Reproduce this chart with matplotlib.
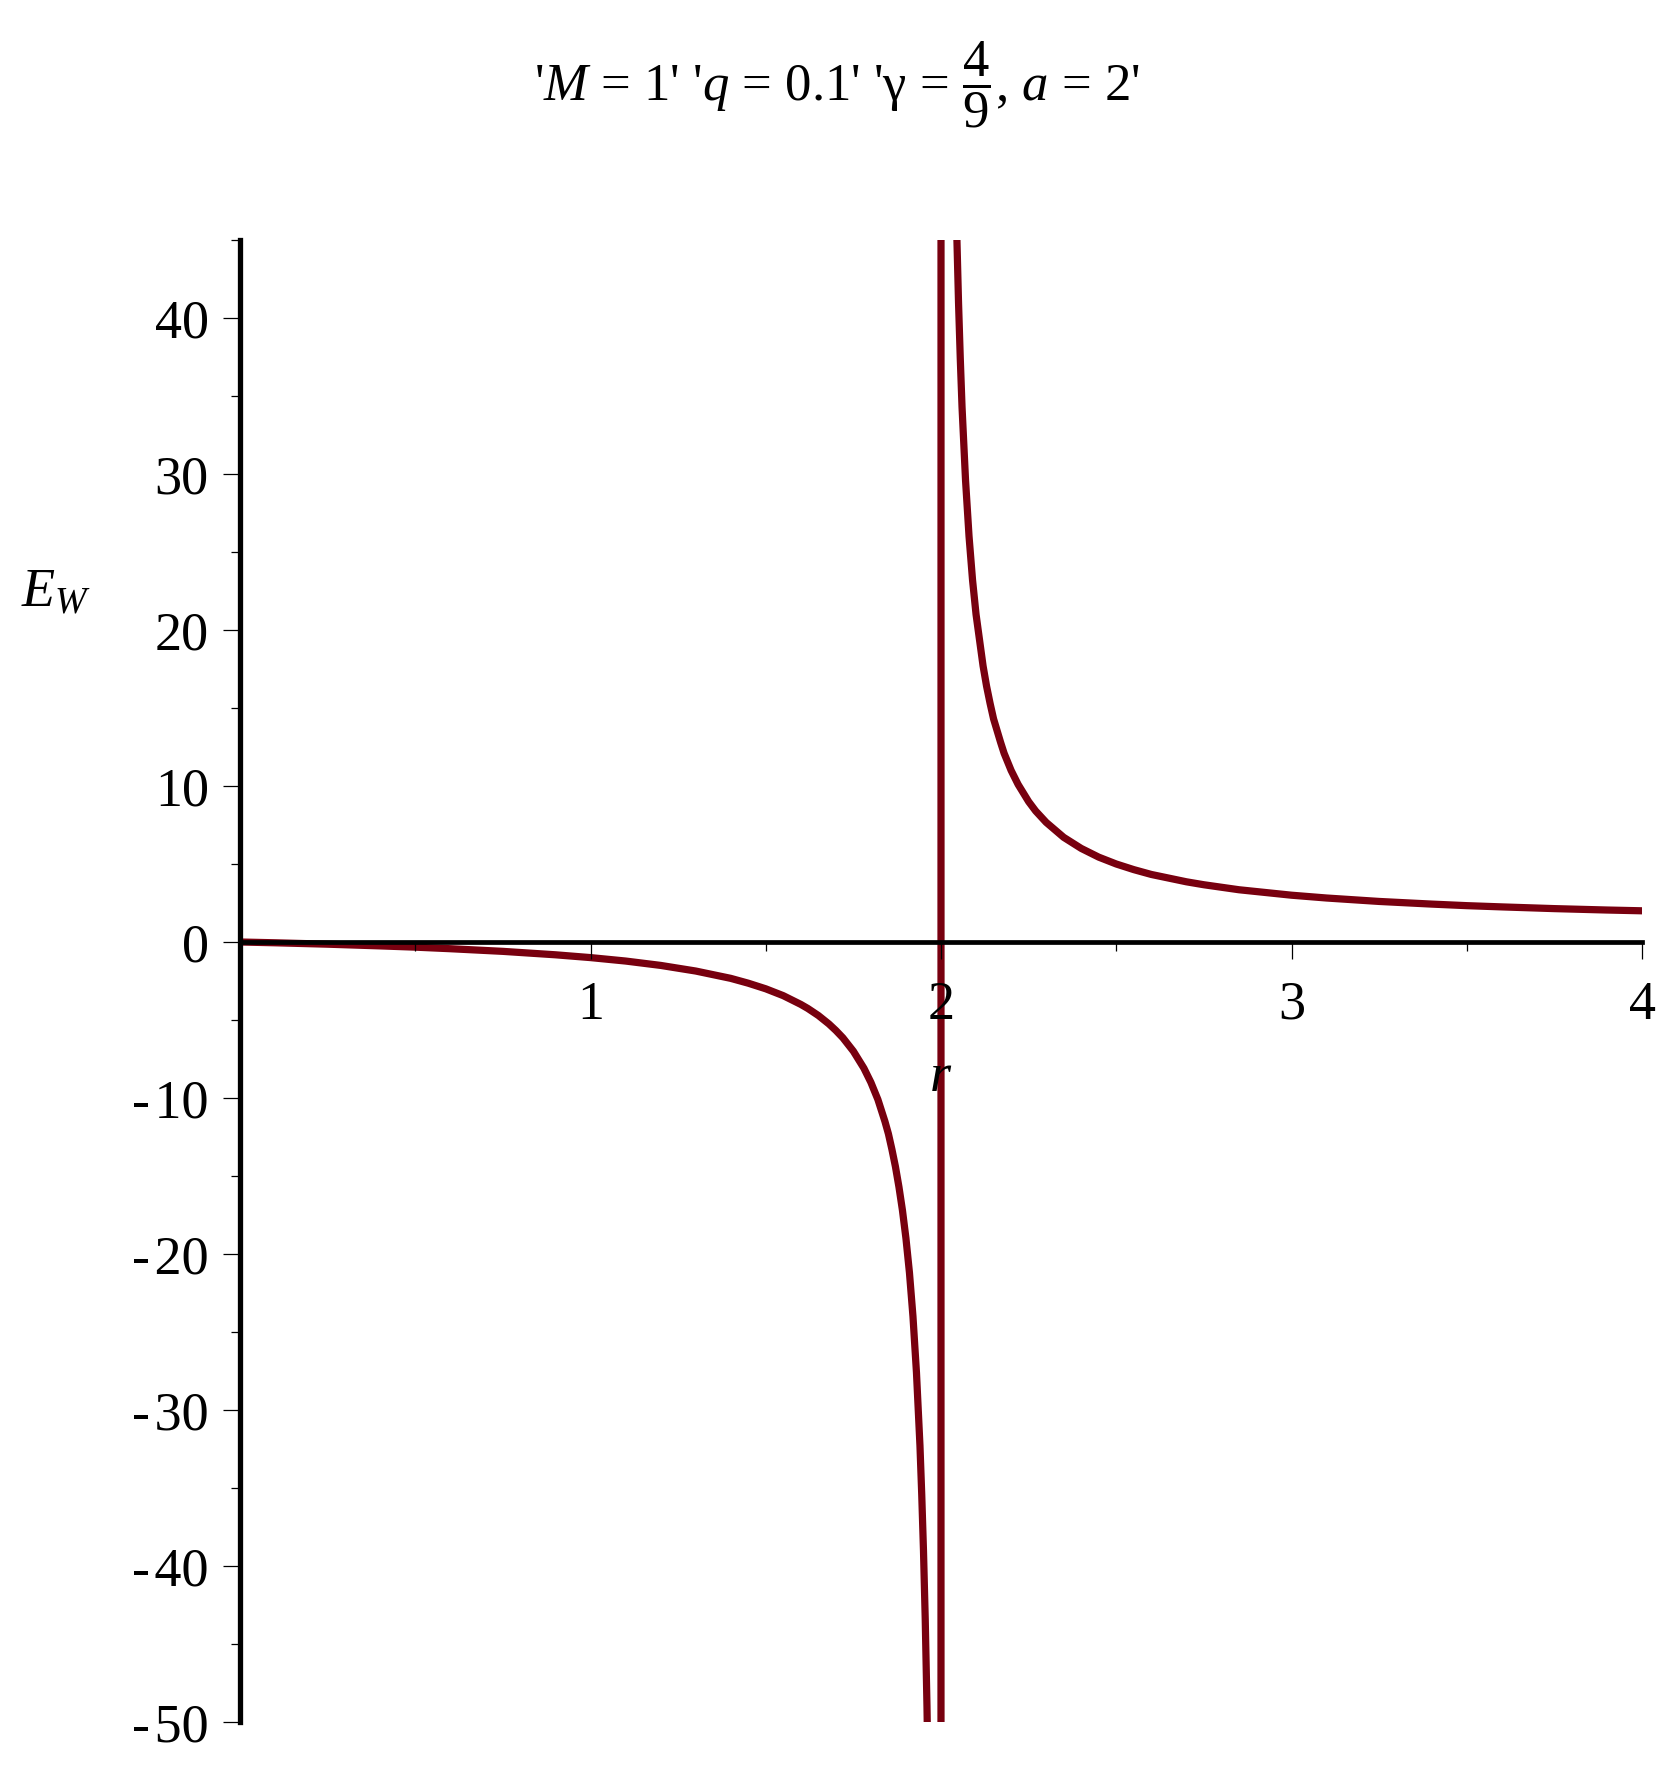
import matplotlib
matplotlib.use('Agg')
import matplotlib.pyplot as plt
from matplotlib.ticker import FixedLocator, MultipleLocator, FuncFormatter

# Fonts: Times-like serif, italic math letters
plt.rcParams['font.family'] = ['Liberation Serif', 'DejaVu Serif']
plt.rcParams['mathtext.fontset'] = 'custom'
plt.rcParams['mathtext.rm'] = 'Liberation Serif'
plt.rcParams['mathtext.it'] = 'Liberation Serif:italic'

# Curve values (left branch, jump across r = 2, right branch)
r_left = [0.0, 0.1, 0.25, 0.4, 0.5, 0.6, 0.75, 0.9, 1.0, 1.1, 1.2, 1.3, 1.4, 1.45,
          1.5, 1.55, 1.6, 1.62, 1.65, 1.68, 1.7, 1.72, 1.75, 1.78, 1.8, 1.82, 1.84,
          1.85, 1.86, 1.87, 1.88, 1.89, 1.9, 1.91, 1.92, 1.93, 1.94, 1.945, 1.95,
          1.955, 1.96, 1.965, 1.97, 1.98, 1.99, 1.999]
e_left = [0.0, -0.05, -0.14, -0.25, -0.33, -0.43, -0.6, -0.82, -1.0, -1.22, -1.5, -1.86,
          -2.33, -2.64, -3.0, -3.44, -4.0, -4.26, -4.71, -5.25, -5.67, -6.14, -7.0, -8.09,
          -9.0, -10.1, -11.5, -12.3, -13.3, -14.4, -15.7, -17.2, -19.0, -21.2, -24.0, -27.6,
          -32.3, -35.4, -39.0, -43.4, -49.0, -56.1, -65.7, -99.0, -199.0, -1999.0]
r_right = [2.001, 2.01, 2.02, 2.03, 2.035, 2.04, 2.045, 2.05, 2.055, 2.06, 2.07, 2.08,
           2.09, 2.1, 2.12, 2.13, 2.14, 2.15, 2.17, 2.18, 2.2, 2.22, 2.25, 2.27, 2.3,
           2.35, 2.4, 2.45, 2.5, 2.55, 2.6, 2.7, 2.75, 2.85, 3.0, 3.1, 3.25, 3.4, 3.5,
           3.6, 3.75, 3.9, 4.0]
e_right = [2001.0, 201.0, 101.0, 67.7, 58.1, 51.0, 45.4, 41.0, 37.4, 34.3, 29.6, 26.0,
           23.2, 21.0, 17.7, 16.4, 15.3, 14.3, 12.8, 12.1, 11.0, 10.1, 9.0, 8.4, 7.67,
           6.71, 6.0, 5.44, 5.0, 4.64, 4.33, 3.86, 3.67, 3.35, 3.0, 2.82, 2.6, 2.43, 2.33,
           2.25, 2.14, 2.05, 2.0]

x_major = [1, 2, 3, 4]
x_minor = [0.5, 1.5, 2.5, 3.5]

title_text = "'$M$ = 1' '$q$ = 0.1' 'γ = $\\dfrac{4}{9}$, $a$ = 2'"

fig = plt.figure(figsize=(16.75, 17.7), dpi=100)
ax = fig.add_axes([240 / 1675, 48 / 1770, 1402 / 1675, 1482 / 1770])

# Maple joins the two branches, which gives the vertical stroke at r = 2
ax.plot(r_left + r_right, e_left + e_right, color='#78000f', linewidth=5.2,
        solid_joinstyle='round', zorder=2)

ax.set_xlim(0, 4)
ax.set_ylim(-50, 45)
ax.set_axisbelow(False)

for side in ['top', 'right']:
    ax.spines[side].set_visible(False)
ax.spines['bottom'].set_position(('data', 0))
ax.spines['left'].set_linewidth(3.8)
ax.spines['bottom'].set_linewidth(3.4)


def y_fmt(v, pos):
    v = int(round(v))
    if v < 0:
        return "-\u200a%d" % (-v)
    return "%d" % v


ax.xaxis.set_major_locator(FixedLocator(x_major))
ax.xaxis.set_minor_locator(FixedLocator(x_minor))
ax.yaxis.set_major_locator(MultipleLocator(10))
ax.yaxis.set_minor_locator(MultipleLocator(5))
ax.yaxis.set_major_formatter(FuncFormatter(y_fmt))
ax.xaxis.set_major_formatter(FuncFormatter(lambda v, p: "%d" % round(v)))

ax.tick_params(which='major', length=12.5, width=0.9, labelsize=39)
ax.tick_params(which='minor', length=6.5, width=0.9)
ax.tick_params(axis='x', which='major', pad=15)
ax.tick_params(axis='y', which='major', pad=10)

ax.set_xlabel('$r$', fontsize=39, labelpad=16)
ax.set_ylabel('$E_W$', fontsize=39, rotation=0, ha='center', va='center')
ax.yaxis.set_label_coords(-0.131, 0.762)

fig.text(0.4997, 0.952, title_text, fontsize=38, ha='center', va='center')

fig.savefig('out.png', dpi=100, facecolor='white')
